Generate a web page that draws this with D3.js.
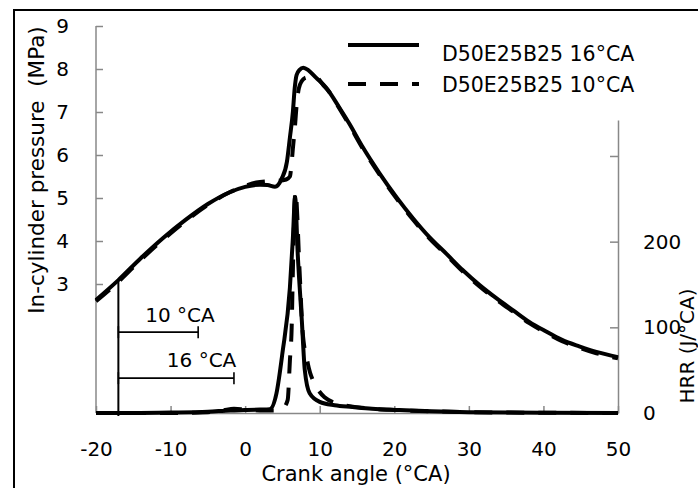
<!DOCTYPE html>
<html>
<head>
<meta charset="utf-8">
<script src="https://cdn.jsdelivr.net/npm/d3@7/dist/d3.min.js"></script>
<style>
  html, body { margin: 0; padding: 0; background: #fff; }
  svg { display: block; font-family: "DejaVu Sans", sans-serif; }
</style>
</head>
<body>
<svg id="chart" width="698" height="488"></svg>
<script>
// ---------- data ----------
const thetaTicks = [-20, -10, 0, 10, 20, 30, 40, 50];
const pressureTicks = [3, 4, 5, 6, 7, 8, 9];
const hrrTicks = [0, 100, 200, 300];
const hrrTickLabels = ["0", "100", "200", ""];

const seriesNames = ["D50E25B25 16°CA", "D50E25B25 10°CA"];

// in-cylinder pressure (MPa) vs crank angle (°CA)
const pressure16 = [
  [-20, 2.63], [-17, 3.09], [-14, 3.60], [-11, 4.07], [-8, 4.49], [-5, 4.86], [-2, 5.14],
  [0, 5.26], [2, 5.31], [3, 5.30], [4, 5.26], [4.9, 5.45], [5.6, 5.84], [6.0, 6.40],
  [6.4, 7.00], [6.65, 7.56], [6.9, 7.86], [7.3, 7.98], [7.8, 8.03], [8.5, 7.97], [9.5, 7.80],
  [10.9, 7.56], [12.5, 7.14], [14, 6.72], [15.74, 6.19], [18, 5.58], [20.29, 5.02],
  [22.5, 4.53], [24.71, 4.09], [27, 3.70], [29.13, 3.33], [31.4, 2.98], [33.68, 2.67],
  [36, 2.38], [38.1, 2.12], [40.3, 1.90], [42.5, 1.70], [44.8, 1.55], [47.1, 1.42], [50, 1.30]
];
const pressure10 = [
  [-20, 2.60], [-17, 3.05], [-14, 3.56], [-11, 4.03], [-8, 4.46], [-5, 4.84], [-2, 5.14],
  [0, 5.28], [1.5, 5.36], [3, 5.39], [4.5, 5.40], [5.5, 5.43], [6.0, 5.50], [6.2, 5.75],
  [6.4, 6.15], [6.65, 6.60], [6.9, 7.15], [7.2, 7.55], [7.6, 7.72], [8.0, 7.79], [8.9, 7.82],
  [9.5, 7.81], [10.5, 7.62], [11.3, 7.46], [12.5, 7.12], [14, 6.69], [15.74, 6.16], [18, 5.55],
  [20.29, 4.99], [22.5, 4.50], [24.71, 4.06], [27, 3.67], [29.13, 3.30], [31.4, 2.95],
  [33.68, 2.64], [36, 2.35], [38.1, 2.09], [40.3, 1.87], [42.5, 1.67], [44.8, 1.52],
  [47.1, 1.39], [50, 1.27]
];
// heat release rate (J/°CA) vs crank angle (°CA)
const hrr16 = [
  [-20, 0], [-15, 0], [-10, 0.5], [-5, 1.5], [-2, 3], [0, 3.5], [2, 4], [3.3, 4.5],
  [4.2, 23], [5.0, 70], [6.0, 146], [6.4, 204], [6.7, 252], [7.05, 186], [7.6, 108],
  [8.0, 50], [8.65, 23], [10, 13], [12, 9], [14.4, 7], [17, 5], [20.7, 3.5], [25, 2],
  [30, 1], [40, 0.3], [50, 0]
];
const hrr10 = [
  [-20, 0], [-10, 0], [-5, 1], [-3, 3], [-1.5, 5], [0, 4], [2, 3], [4, 3], [5.0, 5],
  [5.7, 15], [6.0, 61], [6.24, 100], [6.4, 166], [6.75, 258], [7.3, 166], [7.7, 96],
  [8.4, 58], [9.6, 30], [10.7, 18], [12, 12], [14, 8], [17, 5], [20, 3.5], [25, 2],
  [30, 1], [40, 0.3], [50, 0]
];

// injection-timing annotation (crank angle °CA, pressure MPa)
const markerTheta = -17;
const markerRange = [-0.07, 3.05];
const spanLabels = ["10 °CA", "16 °CA"];
const spanEnds = [-6.3, -1.5];
const spanLevels = [1.88, 0.81];
const spanTextTheta = [-13.4, -10.5];
const spanTextLevel = [2.12, 1.07];

// ---------- scales ----------
const svg = d3.select("#chart");
const x = d3.scaleLinear().domain([-20, 50]).range([96, 618]);
const yP = d3.scaleLinear().domain([0, 9]).range([413, 26]);
const yH = d3.scaleLinear().domain([0, 342]).range([413, 120]);

const axisColor = "#888";
const fontSize = 20;

// frame
svg.append("rect").attr("x", 14).attr("y", 10).attr("width", 800).attr("height", 600)
  .attr("fill", "none").attr("stroke", "#000").attr("stroke-width", 2);

function styleAxis(g) {
  g.select(".domain").attr("stroke", axisColor).attr("stroke-width", 1.5);
  g.selectAll(".tick line").attr("stroke", axisColor).attr("stroke-width", 1.5);
  g.selectAll(".tick text").attr("fill", "#000").style("font-size", fontSize + "px")
    .style("font-family", "'DejaVu Sans', sans-serif");
}

// bottom axis
svg.append("g").attr("transform", `translate(0,${yP(0)})`)
  .call(d3.axisBottom(x).tickValues(thetaTicks).tickFormat(d => String(d))
    .tickSizeInner(-7).tickSizeOuter(0).tickPadding(29))
  .call(styleAxis);

// left axis
svg.append("g").attr("transform", `translate(${x(-20)},0)`)
  .call(d3.axisLeft(yP).tickValues(pressureTicks).tickFormat(d => String(d))
    .tickSizeInner(-7).tickSizeOuter(0).tickPadding(27))
  .call(styleAxis)
  .call(g => g.select(".domain").attr("d", `M0,${yP(0)}V${yP(9)}`));

// right axis
svg.append("g").attr("transform", `translate(${x(50)},0)`)
  .call(d3.axisRight(yH).tickValues(hrrTicks).tickFormat((d, i) => hrrTickLabels[i])
    .tickSizeInner(-8).tickSizeOuter(0).tickPadding(25))
  .call(styleAxis);

// axis titles
svg.append("text").attr("x", 356).attr("y", 481).attr("text-anchor", "middle")
  .style("font-size", "21px").text("Crank angle (°CA)");
svg.append("text").attr("transform", "translate(44,170) rotate(-90)")
  .attr("text-anchor", "middle").style("font-size", "21.5px").style("white-space", "pre")
  .text("In-cylinder pressure  (MPa)");
svg.append("text").attr("transform", "translate(694,346) rotate(-90)")
  .attr("text-anchor", "middle").style("font-size", "20px")
  .text("HRR (J/°CA)");

// annotation
svg.append("line").attr("x1", x(markerTheta)).attr("x2", x(markerTheta))
  .attr("y1", yP(markerRange[0])).attr("y2", yP(markerRange[1]))
  .attr("stroke", "#000").attr("stroke-width", 2);
spanLabels.forEach((lab, i) => {
  const g = svg.append("g").attr("stroke", "#000").attr("stroke-width", 1.6);
  g.append("line").attr("x1", x(markerTheta)).attr("x2", x(spanEnds[i]))
    .attr("y1", yP(spanLevels[i])).attr("y2", yP(spanLevels[i]));
  [markerTheta, spanEnds[i]].forEach(t => {
    g.append("line").attr("x1", x(t)).attr("x2", x(t))
      .attr("y1", yP(spanLevels[i]) - 6).attr("y2", yP(spanLevels[i]) + 6);
  });
  svg.append("text").attr("x", x(spanTextTheta[i])).attr("y", yP(spanTextLevel[i]))
    .style("font-size", "20px").text(lab);
});

// curves
const lineP = d3.line().x(d => x(d[0])).y(d => yP(d[1])).curve(d3.curveMonotoneX);
const lineH = d3.line().x(d => x(d[0])).y(d => yH(d[1])).curve(d3.curveMonotoneX);
const dash = "18,14";

svg.append("path").attr("d", lineH(hrr16)).attr("fill", "none")
  .attr("stroke", "#000").attr("stroke-width", 4).attr("stroke-linejoin", "round");
svg.append("path").attr("d", lineP(pressure16)).attr("fill", "none")
  .attr("stroke", "#000").attr("stroke-width", 4).attr("stroke-linejoin", "round");
svg.append("path").attr("d", lineH(hrr10)).attr("fill", "none")
  .attr("stroke", "#000").attr("stroke-width", 4).attr("stroke-dasharray", dash);
svg.append("path").attr("d", lineP(pressure10)).attr("fill", "none")
  .attr("stroke", "#000").attr("stroke-width", 4).attr("stroke-dasharray", dash);

// legend
const legendY = [45, 84];
const textY = [61, 92];
seriesNames.forEach((name, i) => {
  svg.append("line").attr("x1", 348).attr("x2", 419).attr("y1", legendY[i]).attr("y2", legendY[i])
    .attr("stroke", "#000").attr("stroke-width", 4)
    .attr("stroke-dasharray", i === 1 ? dash : null);
  svg.append("text").attr("x", 442).attr("y", textY[i]).style("font-size", "20.5px").text(name);
});
</script>
</body>
</html>
